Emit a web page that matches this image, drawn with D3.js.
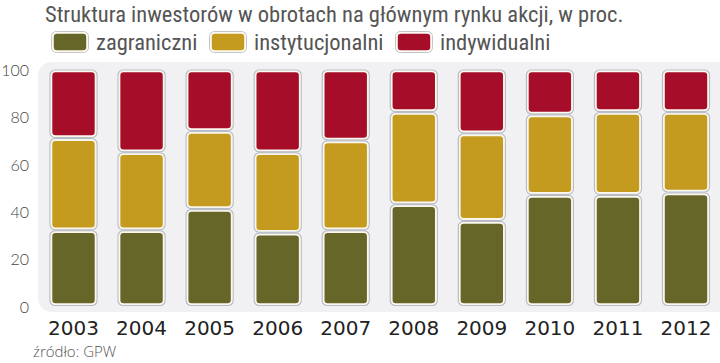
<!DOCTYPE html>
<meta charset="utf-8">
<head>
    <title>Struktura inwestorów</title>
    <style>
        body { margin: 0; background: #fff; }
    </style>
</head>
<body>
<script src="https://d3js.org/d3.v7.min.js"></script>
<svg id="chart" width="720" height="363"></svg>

<script>
    // dane (w proc.)
    var years = ["2003", "2004", "2005", "2006", "2007", "2008", "2009", "2010", "2011", "2012"];
    var zagraniczni = [32, 32, 41, 31, 32, 43, 36, 47, 47, 48];
    var instytucjonalni = [39, 33, 33, 34, 38, 39, 37, 34, 35, 34];
    var indywidualni = [29, 35, 26, 35, 30, 18, 27, 19, 18, 18];
    var seriesNames = ["zagraniczni", "instytucjonalni", "indywidualni"];
    var seriesColors = ["#676629", "#c49b1e", "#a50d28"];
    var yTicks = [0, 20, 40, 60, 80, 100];

    var svg = d3.select("#chart"),
        width = +svg.attr("width"),
        height = +svg.attr("height"),
        barW = 47;

    var x = d3.scalePoint().domain(years).range([73.5, 686]);
    var y = d3.scaleLinear().domain([0, 100]).range([306, 69.5]);

    var rows = years.map(function (yr, i) {
        return {year: yr, zagraniczni: zagraniczni[i], instytucjonalni: instytucjonalni[i], indywidualni: indywidualni[i]};
    });
    var stacked = d3.stack().keys(seriesNames)(rows);

    // tlo
    svg.append("rect")
        .attr("x", 38).attr("y", 62)
        .attr("width", 700).attr("height", 250)
        .attr("rx", 14)
        .attr("fill", "#f1f1f3");

    // siatka
    svg.append("g")
        .attr("transform", "translate(" + width + ",0)")
        .call(d3.axisLeft(y).tickValues(yTicks).tickSize(-(width - 40)).tickFormat(""))
        .call(function (g) {
            g.select(".domain").remove();
            g.selectAll("line").attr("stroke", "#dcdce0");
        });

    // etykiety osi Y
    svg.append("g")
        .selectAll("text")
        .data(yTicks)
        .join("text")
        .attr("x", 29)
        .attr("y", function (d) { return y(d); })
        .attr("text-anchor", "end")
        .attr("dominant-baseline", "central")
        .attr("font-family", "Lato, 'Open Sans', sans-serif")
        .attr("font-weight", 300)
        .attr("font-size", 16)
        .attr("fill", "#444")
        .text(function (d) { return d; });

    // slupki
    var layers = svg.append("g")
        .selectAll("g")
        .data(stacked)
        .join("g")
        .attr("fill", function (d, i) { return seriesColors[i]; });

    layers.selectAll("rect.shadow")
        .data(function (d) { return d; })
        .join("rect")
        .attr("class", "shadow")
        .attr("x", function (d) { return x(d.data.year) - barW / 2; })
        .attr("y", function (d) { return y(d[1]) + 0.5; })
        .attr("width", barW)
        .attr("height", function (d) { return y(d[0]) - y(d[1]) - 1; })
        .attr("rx", 5)
        .attr("fill", "none")
        .attr("stroke", "#b9bcc4")
        .attr("stroke-width", 1.2);

    layers.selectAll("rect.seg")
        .data(function (d) { return d; })
        .join("rect")
        .attr("class", "seg")
        .attr("x", function (d) { return x(d.data.year) - barW / 2 + 1.5; })
        .attr("y", function (d) { return y(d[1]) + 2; })
        .attr("width", barW - 3)
        .attr("height", function (d) { return y(d[0]) - y(d[1]) - 4; })
        .attr("rx", 4)
        .attr("stroke", "#fbf8ee")
        .attr("stroke-width", 1.6);

    // lata
    svg.append("g")
        .selectAll("text")
        .data(years)
        .join("text")
        .attr("x", function (d) { return x(d); })
        .attr("y", 335)
        .attr("text-anchor", "middle")
        .attr("font-family", "'DejaVu Sans', sans-serif")
        .attr("font-size", 20)
        .attr("fill", "#222")
        .text(function (d) { return d; });

    // tytul
    svg.append("text")
        .attr("x", 45).attr("y", 21.5)
        .attr("font-family", "'Liberation Sans Narrow', 'Roboto Condensed', sans-serif")
        .attr("font-size", 22.5)
        .attr("fill", "#555")
        .text("Struktura inwestorów w obrotach na głównym rynku akcji, w proc.");

    // legenda
    var legendX = [52, 210, 396];
    var legend = svg.append("g")
        .selectAll("g")
        .data(seriesNames)
        .join("g")
        .attr("transform", function (d, i) { return "translate(" + legendX[i] + ",32)"; });

    legend.append("rect")
        .attr("x", -0.5).attr("y", -0.5)
        .attr("width", 37).attr("height", 21)
        .attr("rx", 5)
        .attr("fill", "none")
        .attr("stroke", "#c4c4c8");

    legend.append("rect")
        .attr("x", 1).attr("y", 1)
        .attr("width", 34).attr("height", 18)
        .attr("rx", 4)
        .attr("fill", function (d, i) { return seriesColors[i]; })
        .attr("stroke", "#fbf8ee")
        .attr("stroke-width", 1.6);

    legend.append("text")
        .attr("x", 44).attr("y", 18)
        .attr("font-family", "'Liberation Sans Narrow', 'Roboto Condensed', sans-serif")
        .attr("font-size", 22.5)
        .attr("fill", "#555")
        .text(function (d) { return d; });

    // zrodlo
    svg.append("text")
        .attr("x", 33).attr("y", 357)
        .attr("font-family", "'Open Sans', sans-serif")
        .attr("font-weight", 300)
        .attr("font-size", 15)
        .attr("fill", "#555")
        .text("źródło: GPW");
</script>

</body>
